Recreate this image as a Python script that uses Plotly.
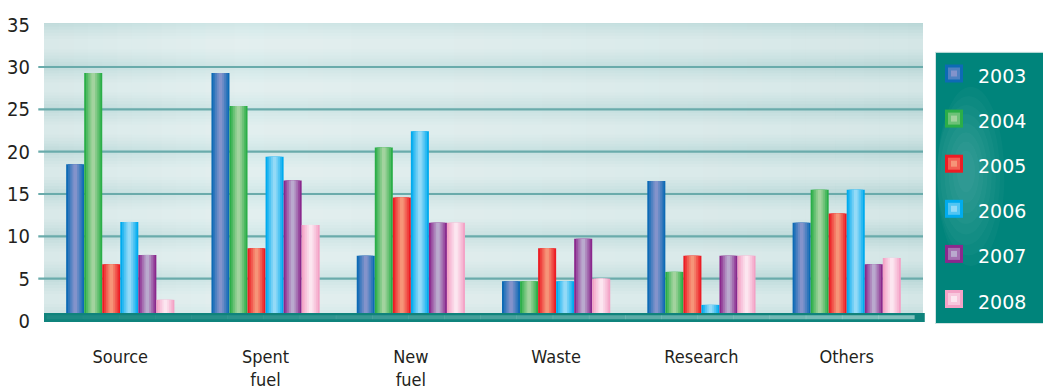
import plotly.graph_objects as go

# --- data -------------------------------------------------------------
categories = ["Source", "Spent fuel", "New fuel", "Waste", "Research", "Others"]
years = ["2003", "2004", "2005", "2006", "2007", "2008"]

v2003 = [18.5, 29.3, 7.7, 4.7, 16.55, 11.6]
v2004 = [29.3, 25.4, 20.5, 4.7, 5.8, 15.5]
v2005 = [6.7, 8.6, 14.6, 8.6, 7.7, 12.7]
v2006 = [11.7, 19.4, 22.4, 4.7, 1.9, 15.5]
v2007 = [7.8, 16.6, 11.6, 9.7, 7.7, 6.7]
v2008 = [2.5, 11.35, 11.6, 5.0, 7.7, 7.45]
series = [v2003, v2004, v2005, v2006, v2007, v2008]

y_ticks = [0, 5, 10, 15, 20, 25, 30, 35]
grid_values = [5, 10, 15, 20, 25, 30]

# --- styling ----------------------------------------------------------
# edge colour and centre colour of each bar; intermediate layers are
# blended between them to give a rounded, cylinder-like shading
palette = [
    ("#0d6ab5", "#8393cb"),
    ("#2bae48", "#a2d39e"),
    ("#ec1c24", "#f69478"),
    ("#00abee", "#93daf7"),
    ("#8a288d", "#baa9ce"),
    ("#f3a2c6", "#fce6f0"),
]
layer_fracs = [1.0, 0.8, 0.6, 0.4, 0.2]

TEXT = "#231f20"
NARROW = "DejaVu Sans Condensed, DejaVu Sans, sans-serif"
GRID = "#6aabab"


def hex_rgb(h):
    h = h.lstrip("#")
    return tuple(int(h[i:i + 2], 16) for i in (0, 2, 4))


def mix(c0, c1, f):
    a, b = hex_rgb(c0), hex_rgb(c1)
    return "rgb(%d,%d,%d)" % tuple(round(x + (y - x) * f) for x, y in zip(a, b))


group_width = 0.745
bar_w = group_width / len(years)

fig = go.Figure()

for i, (vals, (edge, centre)) in enumerate(zip(series, palette)):
    left = -group_width / 2 + i * bar_w
    n = len(layer_fracs)
    for j, frac in enumerate(layer_fracs):
        w = bar_w * frac
        fig.add_trace(go.Bar(
            x=categories, y=vals, name=years[i],
            width=w, offset=left + (bar_w - w) / 2,
            marker=dict(color=mix(edge, centre, (j / (n - 1)) ** 0.9), line=dict(width=0)),
            showlegend=False,
            hoverinfo="x+y+name" if j == 0 else "skip",
        ))

shapes = []

# panel background: horizontal gradient made of narrow strips
stops = [(0.0, "#bddada"), (0.22, "#cfe6e6"), (0.55, "#c6e0e0"), (1.0, "#b6d6d6")]


def strip_color(t):
    for (t0, c0), (t1, c1) in zip(stops[:-1], stops[1:]):
        if t0 <= t <= t1:
            return mix(c0, c1, (t - t0) / (t1 - t0))
    return stops[-1][1]


n_strips = 60
for k in range(n_strips):
    x0 = k / n_strips
    x1 = min((k + 1) / n_strips + 0.001, 1)
    shapes.append(dict(type="rect", xref="paper", yref="paper", x0=x0, x1=x1,
                       y0=0, y1=1, fillcolor=strip_color((x0 + x1) / 2),
                       line=dict(width=0), layer="below"))

# each band between grid lines gets a light, rounded sheen in its middle
bands = [0] + grid_values + [35.2]
sheen = [0.94, 0.8, 0.66, 0.52, 0.38, 0.24]
for lo, hi in zip(bands[:-1], bands[1:]):
    span = hi - lo
    mid = lo + span * 0.52
    for h in sheen:
        shapes.append(dict(type="rect", xref="paper", yref="y", x0=0, x1=1,
                           y0=mid - span * h / 2, y1=mid + span * h / 2,
                           fillcolor="rgba(255,255,255,0.095)", line=dict(width=0),
                           layer="below"))

# grid lines, extending slightly left of the panel like tick marks
for g in grid_values:
    shapes.append(dict(type="line", xref="paper", yref="y", x0=-0.0065, x1=1,
                       y0=g, y1=g, line=dict(color=GRID, width=2.2), layer="below"))

# floor slab along the base of the bars
shapes.append(dict(type="rect", xref="paper", yref="y", x0=0, x1=1.002,
                   y0=-0.12, y1=0.95, fillcolor="#0f837c", line=dict(width=0), layer="above"))
n_floor = 24
for k in range(n_floor):
    x0 = 0.003 + k * (0.99 - 0.003) / n_floor
    x1 = 0.003 + (k + 1) * (0.99 - 0.003) / n_floor + 0.0005
    a = 0.08 + 0.6 * (k / (n_floor - 1)) ** 1.3
    shapes.append(dict(type="rect", xref="paper", yref="y", x0=x0, x1=x1,
                       y0=0.2, y1=0.68, fillcolor="rgba(185,222,220,%.3f)" % a,
                       line=dict(width=0), layer="above"))

# legend panel
plot_top_px, plot_h_px, plot_left_px, plot_w_px = 23.0, 299.0, 44.0, 879.0


def px_x(px):
    return (px - plot_left_px) / plot_w_px


def px_y(py):
    return 1 - (py - plot_top_px) / plot_h_px


shapes.append(dict(type="rect", xref="paper", yref="paper", x0=px_x(935.5), x1=px_x(1046),
                   y0=px_y(323.5), y1=px_y(52.3), fillcolor="#00847b",
                   line=dict(color="#cfe3e2", width=1), layer="above"))
# soft glow on the left-centre of the legend panel
glow_cx, glow_cy = 966, 170
for r in range(64, 8, -7):
    shapes.append(dict(type="circle", xref="paper", yref="paper",
                       x0=px_x(max(glow_cx - r * 0.6, 937)), x1=px_x(glow_cx + r * 0.6),
                       y0=px_y(glow_cy + r * 1.5), y1=px_y(glow_cy - r * 1.3),
                       fillcolor="rgba(255,255,255,0.026)", line=dict(width=0), layer="above"))

annotations = []
row_top_px = 73.5
row_step_px = 45.1
for i, (yr, (edge, centre)) in enumerate(zip(years, palette)):
    cy = row_top_px + i * row_step_px
    shapes.append(dict(type="rect", xref="paper", yref="paper", x0=px_x(945), x1=px_x(963),
                       y0=px_y(cy + 9), y1=px_y(cy - 9), fillcolor=edge,
                       line=dict(width=0), layer="above"))
    shapes.append(dict(type="rect", xref="paper", yref="paper", x0=px_x(948), x1=px_x(960),
                       y0=px_y(cy + 6), y1=px_y(cy - 6), fillcolor=mix(edge, centre, 0.55),
                       line=dict(width=0), layer="above"))
    shapes.append(dict(type="rect", xref="paper", yref="paper", x0=px_x(951), x1=px_x(957),
                       y0=px_y(cy + 3), y1=px_y(cy - 3), fillcolor=centre,
                       line=dict(width=0), layer="above"))
    annotations.append(dict(xref="paper", yref="paper",
                            x=px_x(976), y=px_y(cy + 2.5),
                            xanchor="left", yanchor="middle", showarrow=False,
                            text=yr, font=dict(family="DejaVu Sans", size=19, color="white")))

fig.update_layout(
    width=1043, height=386,
    margin=dict(l=44, r=120, t=23, b=64),
    paper_bgcolor="white", plot_bgcolor="#c6e0e0",
    barmode="overlay",
    showlegend=False,
    shapes=shapes, annotations=annotations,
    xaxis=dict(
        type="category", categoryorder="array", categoryarray=categories,
        range=[-0.525, 5.525], automargin=False,
        tickmode="array", tickvals=categories,
        ticktext=[c.replace(" ", "<br>") for c in categories],
        tickfont=dict(family=NARROW, size=18, color=TEXT),
        ticks="", ticklabelstandoff=22,
        showgrid=False, zeroline=False, showline=False,
    ),
    yaxis=dict(
        range=[-0.12, 35.2], tickmode="array", tickvals=y_ticks, automargin=False,
        tickfont=dict(family=NARROW, size=20, color=TEXT),
        ticks="", ticklabelstandoff=13,
        showgrid=False, zeroline=False, showline=False,
    ),
)

fig.write_html("out.html")
